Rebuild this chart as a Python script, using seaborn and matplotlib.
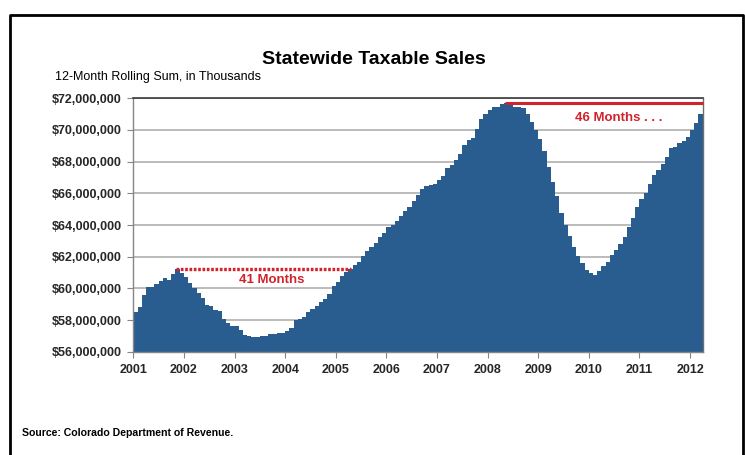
import numpy as np
import pandas as pd
import matplotlib
matplotlib.use("Agg")
import matplotlib.pyplot as plt
from matplotlib.lines import Line2D
from matplotlib.ticker import FuncFormatter
import seaborn as sns

# Year labels for the x axis (one tick at the start of each year)
years = [str(y) for y in range(2001, 2013)]

# 12-month rolling sum of statewide taxable sales, in millions of $ thousands,
# monthly from Jan 2001 through Mar 2012
rolling_sum = [
    # 2001
    58.50, 58.85, 59.57, 60.06, 60.10, 60.25, 60.46, 60.67, 60.52, 60.88, 61.20, 60.98,
    # 2002
    60.70, 60.36, 60.00, 59.70, 59.40, 58.96, 58.89, 58.63, 58.54, 58.07, 57.79, 57.63,
    # 2003
    57.62, 57.40, 57.08, 56.99, 56.94, 56.92, 56.96, 57.02, 57.10, 57.12, 57.15, 57.20,
    # 2004
    57.28, 57.47, 57.98, 58.05, 58.20, 58.52, 58.69, 58.90, 59.15, 59.32, 59.64, 60.12,
    # 2005
    60.42, 60.77, 61.02, 61.25, 61.47, 61.68, 62.04, 62.33, 62.63, 62.88, 63.22, 63.51,
    # 2006
    63.89, 64.02, 64.27, 64.56, 64.90, 65.15, 65.50, 65.89, 66.25, 66.47, 66.52, 66.57,
    # 2007
    66.82, 67.09, 67.63, 67.79, 68.12, 68.47, 69.05, 69.35, 69.50, 70.05, 70.68, 71.03,
    # 2008
    71.28, 71.45, 71.48, 71.62, 71.72, 71.58, 71.47, 71.43, 71.37, 71.01, 70.48, 70.00,
    # 2009
    69.41, 68.69, 67.68, 66.73, 65.83, 64.77, 63.99, 63.30, 62.62, 62.04, 61.57, 61.15,
    # 2010
    60.98, 60.84, 61.11, 61.41, 61.68, 62.10, 62.42, 62.80, 63.26, 63.89, 64.42, 65.15,
    # 2011
    65.62, 66.00, 66.59, 67.16, 67.47, 67.85, 68.32, 68.84, 68.91, 69.16, 69.33, 69.58,
    # 2012
    70.00, 70.42, 71.01,
]

# Previous peaks and the months it took (or is taking) to get back to them
peak_2001_index = 10        # Nov 2001
months_to_recover_2001 = 41
peak_2008_index = 88        # May 2008
months_since_2008_peak = 46

bar_color = "#2a5d8f"
red = "#d0232b"

df = pd.DataFrame({"month": np.arange(len(rolling_sum)), "sales": rolling_sum})

sns.set_theme(style="white")
plt.rcParams["font.family"] = ["Liberation Sans", "DejaVu Sans"]

fig = plt.figure(figsize=(7.45, 4.55), dpi=100)
ax = fig.add_axes([133.3 / 745, 1 - 351.7 / 455, (702.7 - 133.3) / 745, (351.7 - 98.3) / 455])

sns.barplot(data=df, x="month", y="sales", color=bar_color, saturation=1,
            width=1.0, edgecolor=bar_color, linewidth=0.0, ax=ax)

ax.set_xlim(-0.5, len(rolling_sum) - 0.5)
ax.set_ylim(56, 72)
ax.set_xlabel("")
ax.set_ylabel("")

# Year ticks sit on the January boundary of each year
ax.set_xticks(np.arange(len(years)) * 12 - 0.5)
ax.set_xticklabels(years, fontsize=9, fontweight="bold")
ax.set_yticks(np.arange(56, 73, 2))
ax.yaxis.set_major_formatter(FuncFormatter(lambda v, _: f"${v * 1e6:,.0f}"))
for lbl in ax.get_yticklabels():
    lbl.set_fontweight("bold")
ax.tick_params(axis="y", labelsize=9, length=4, width=0.8, color="#868686", pad=4.5, left=True)
ax.tick_params(axis="x", length=4, width=0.8, color="#868686", pad=5, bottom=True)

ax.yaxis.grid(True, color="#a8a8a8", linewidth=1.1)
ax.set_axisbelow(True)

for side in ("left", "bottom"):
    ax.spines[side].set_color("#868686")
    ax.spines[side].set_linewidth(1.0)
ax.spines["top"].set_color("#3a3a3a")
ax.spines["top"].set_linewidth(1.2)
ax.spines["right"].set_color("#6e6e6e")
ax.spines["right"].set_linewidth(1.0)

# 2001 peak -> recovery marker
peak_2001 = rolling_sum[peak_2001_index]
ax.plot([peak_2001_index - 0.3, peak_2001_index + months_to_recover_2001 + 0.2],
        [peak_2001, peak_2001], color=red, linewidth=2.4, linestyle=(0, (0.8, 0.5)),
        zorder=5)
ax.text(32.4, 60.52, f"{months_to_recover_2001} Months", color=red,
        fontsize=9.5, fontweight="bold", ha="center", va="center")

# 2008 peak -> still below it
peak_2008 = rolling_sum[peak_2008_index]
ax.plot([peak_2008_index - 0.3, peak_2008_index + months_since_2008_peak + 0.5],
        [peak_2008, peak_2008], color=red, linewidth=2.2, solid_capstyle="butt",
        zorder=5, clip_on=False)
ax.text(104.2, 70.76, f"{months_since_2008_peak} Months . . .", color=red,
        fontsize=9.5, fontweight="bold", ha="left", va="center")

# Titles and source note
fig.text(374 / 745, 1 - 60 / 455, "Statewide Taxable Sales", fontsize=14,
         fontweight="bold", ha="center", va="center", color="black")
fig.text(55 / 745, 1 - 77 / 455, "12-Month Rolling Sum, in Thousands", fontsize=9,
         ha="left", va="center", color="black")
fig.text(22 / 745, 1 - 433 / 455, "Source: Colorado Department of Revenue.",
         fontsize=7.6, fontweight="bold", ha="left", va="center", color="black")

# Outer frame (open at the bottom)
fig.add_artist(Line2D([10 / 745, 10 / 745, 743 / 745, 743 / 745],
                      [0, 1 - 15 / 455, 1 - 15 / 455, 0],
                      transform=fig.transFigure, color="black", linewidth=2.0))

fig.savefig("out.png", dpi=100, facecolor="white")
